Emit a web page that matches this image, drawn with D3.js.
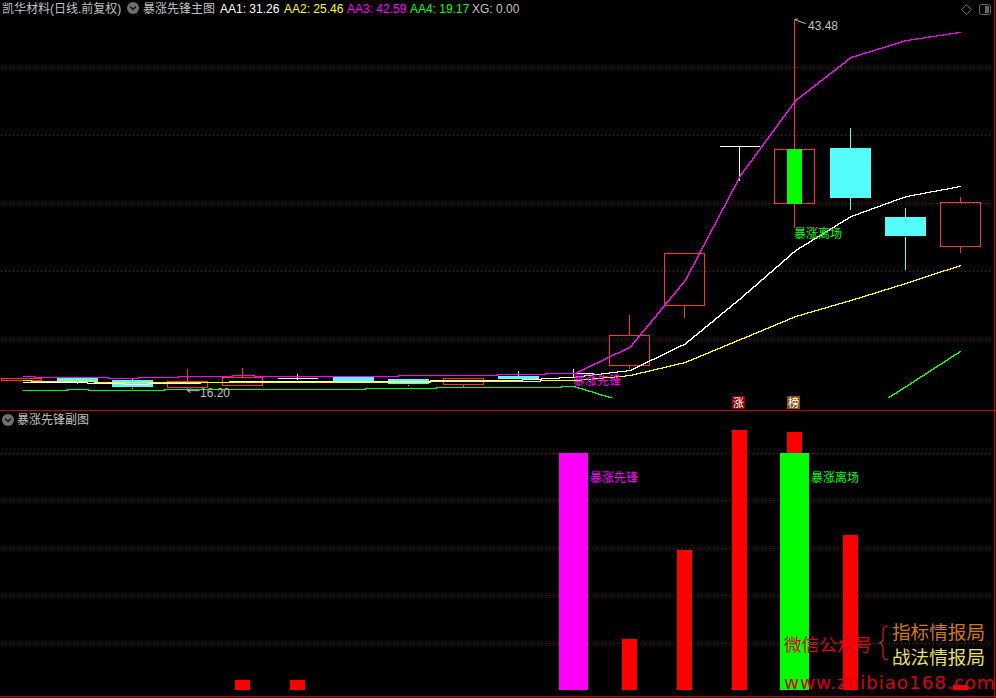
<!DOCTYPE html>
<html><head><meta charset="utf-8">
<script src="https://cdnjs.cloudflare.com/ajax/libs/d3/7.8.5/d3.min.js"></script>
<style>html,body{margin:0;background:#000;overflow:hidden}svg{display:block}text{font-family:"Liberation Sans","Noto Sans CJK SC",sans-serif}</style>
</head><body><svg id="c" width="996" height="698"></svg>
<script>
const tickPrices=[20,25,30,35,40];
const open_ =[16.93,17.15,16.98,16.40,16.57,17.11,17.20,17.06,16.64,17.28,17.48,18.07,22.48,34.19,29.96,34.04,28.97,26.80];
const close_=[17.13,16.84,16.47,16.89,17.18,17.11,16.89,16.69,17.11,17.06,17.48,20.27,26.30,34.19,33.97,30.37,27.57,30.04];
const high_ =[17.13,17.15,17.06,17.79,17.87,17.43,17.20,17.06,17.11,17.65,17.79,21.76,26.30,34.19,43.48,35.51,29.63,30.44];
const low_  =[16.93,16.71,16.33,16.20,16.57,16.98,16.89,16.54,16.47,17.06,17.13,17.79,21.54,31.62,28.16,29.49,25.07,26.32];
const aa1=[16.82,16.82,16.71,16.77,16.91,16.91,16.91,16.91,17.01,17.01,17.23,17.72,19.68,23.01,26.54,29.04,30.51,31.26];
const aa2=[16.96,16.89,16.84,16.82,16.84,16.84,16.84,16.84,16.93,16.93,16.98,17.35,18.31,20.00,21.69,22.87,24.12,25.46];
const aa3=[17.26,17.18,17.16,17.26,17.33,17.26,17.26,17.33,17.33,17.43,17.50,19.43,24.34,32.06,37.57,40.73,41.98,42.59];
const aa4=[16.23,16.30,16.23,16.33,16.35,16.30,16.35,16.40,16.47,16.47,16.52,15.29,14.60,14.10,13.80,13.97,16.54,19.17];
const subRed=[0,0,0,0,4.2,4.2,0,0,0,0,0,21.5,59,109.5,108.6,65.3,0,2];
const subMagenta=[0,0,0,0,0,0,0,0,0,0,100,0,0,0,0,0,0,0];
const subGreen=[0,0,0,0,0,0,0,0,0,0,0,0,0,0,100,0,0,0];
const subTicks=[20,40,60,80,100];
const headerNames=["AA1","AA2","AA3","AA4","XG"];
const headerValues=["31.26","25.46","42.59","19.17","0.00"];
const idx=d3.range(open_.length);

const svg=d3.select("#c");
const W=996,H=698;
svg.append("rect").attr("width",W).attr("height",H).attr("fill","#000");
const x=d3.scaleLinear().domain([0,17]).range([21.93,960.415]);
const y=d3.scaleLinear().domain([20,25]).range([339,271]);
const ys=d3.scaleLinear().domain([0,20]).range([690,642.5]);
const RED="#ff3232",CY="#54fcfc",MAG="#ff00ff",GRN="#00ff00",YEL="#ffff00",GREY="#c0c0c0";
const snap=v=>Math.round(v-.5)+.5;
const gline=svg.append("g");
function dotted(yy){gline.append("line").attr("x1",1).attr("x2",992).attr("y1",Math.round(yy)+.5).attr("y2",Math.round(yy)+.5)
  .attr("stroke","#8c1414").attr("stroke-width",1).attr("stroke-dasharray","1 3");}
tickPrices.forEach(v=>dotted(y(v)));
subTicks.forEach(v=>dotted(ys(v)));
// frame
const frame=svg.append("g").attr("stroke","#c80000").attr("stroke-width",1).attr("shape-rendering","crispEdges");
frame.append("line").attr("x1",0).attr("x2",W).attr("y1",410.5).attr("y2",410.5);
frame.append("line").attr("x1",0).attr("x2",W).attr("y1",696.5).attr("y2",696.5);
frame.append("line").attr("x1",994.5).attr("x2",994.5).attr("y1",0).attr("y2",698);
// candles
const cg=svg.append("g").attr("shape-rendering","crispEdges");
idx.forEach(i=>{
  const up=close_[i]>open_[i],doji=close_[i]===open_[i],cx=Math.floor(x(i))+.5;
  const col=doji?"#fff":up?RED:CY;
  const rawTop=y(Math.max(open_[i],close_[i])),rawBot=y(Math.min(open_[i],close_[i]));
  const top=snap(rawTop),bot=snap(rawBot);
  cg.append("line").attr("x1",cx).attr("x2",cx).attr("y1",y(high_[i])).attr("y2",top).attr("stroke",col);
  cg.append("line").attr("x1",cx).attr("x2",cx).attr("y1",bot).attr("y2",y(low_[i])).attr("stroke",col);
  if(doji) cg.append("line").attr("x1",cx-20).attr("x2",cx+20).attr("y1",top).attr("y2",top).attr("stroke",col);
  else if(up) cg.append("rect").attr("x",cx-20).attr("y",top).attr("width",40).attr("height",bot-top).attr("fill","none").attr("stroke",RED).attr("stroke-width",1);
  else cg.append("rect").attr("x",cx-20.5).attr("y",Math.round(rawTop)).attr("width",41).attr("height",Math.round(rawBot)-Math.round(rawTop)).attr("fill",CY);
});
// green signal body over candle 14
cg.append("rect").attr("x",Math.floor(x(14))-7).attr("width",15).attr("y",y(close_[14])).attr("height",y(open_[14])-y(close_[14])).attr("fill",GRN);
// lines: rasterised to whole pixels as a stair, like the aliased terminal lines
svg.append("clipPath").attr("id","clip").append("rect").attr("x",0).attr("y",0).attr("width",W).attr("height",398);
const stair=d3.line().curve(d3.curveStepAfter);
function pixelPoints(s){
  const pts=[];
  for(let px=Math.ceil(x(0));px<=Math.floor(x(s.length-1));px++){
    pts.push([px+.5,Math.round(y(d3.piecewise(d3.interpolateNumber,s)(x.invert(px)/(s.length-1))))+.5]);
  }
  return pts;
}
const lg=svg.append("g").attr("clip-path","url(#clip)").attr("fill","none").attr("stroke-width",1).attr("shape-rendering","crispEdges");
[[aa3,MAG],[aa1,"#fff"],[aa2,YEL],[aa4,GRN]].forEach(([s,c])=>lg.append("path").attr("d",stair(pixelPoints(s))).attr("stroke",c));
// labels
function t(xx,yy,s,fill,size,anchor){return svg.append("text").attr("x",xx).attr("y",yy).attr("fill",fill).attr("font-size",size||12).attr("text-anchor",anchor||"start").text(s);}
t(573,385,"暴涨先锋",MAG,12);
t(794,238,"暴涨离场",GRN,12);
t(200,397,"16.20",GREY,12);
t(808,30,"43.48",GREY,12);
const ag=svg.append("g").attr("stroke",GREY).attr("fill","none");
ag.append("path").attr("d",`M${x(3)} ${y(16.2)}h12M${x(3)} ${y(16.2)}l3 -2M${x(3)} ${y(16.2)}l3 2`);
ag.append("path").attr("d",`M${x(14)} ${y(43.48)}l11 4M${x(14)} ${y(43.48)}l3 -1`);
// badges
[[13,"涨","#8c0000"],[14,"榜","#8a5010"]].forEach(([i,s,c])=>{
  svg.append("rect").attr("x",Math.floor(x(i))-7).attr("y",396).attr("width",13).attr("height",13).attr("fill",c);
  t(Math.floor(x(i))-.5,407,s,"#fff",11,"middle");
});
// header
function icon(cx,cy){svg.append("circle").attr("cx",cx).attr("cy",cy).attr("r",6).attr("fill","#707070");
  svg.append("path").attr("d",`M${cx-3} ${cy-1.5}L${cx} ${cy+1.5}L${cx+3} ${cy-1.5}`).attr("stroke","#111").attr("stroke-width",1.4).attr("fill","none");}
t(2,13,"凯华材料(日线.前复权)",GREY,12);
icon(133,8);
t(143,13,"暴涨先锋主图",GREY,12);
const hx=[220,284,347,410,472],hc=["#fff",YEL,MAG,GRN,GREY];
headerNames.forEach((n,i)=>t(hx[i],13,n+": "+headerValues[i],hc[i],12));
svg.append("path").attr("d","M966.5 4.5l5 5l-5 5l-5 -5z").attr("fill","none").attr("stroke","#666");
svg.append("rect").attr("x",979.5).attr("y",4.5).attr("width",11).attr("height",10).attr("rx",2).attr("fill","none").attr("stroke","#666");
svg.append("rect").attr("x",985).attr("y",6).attr("width",4).attr("height",7).attr("fill","#666");
icon(8,420);
t(17,424,"暴涨先锋副图",GREY,12);
// sub bars
const bars=svg.append("g").attr("shape-rendering","crispEdges");
function barSet(data,col,w){bars.selectAll(null).data(idx.filter(i=>data[i]>0)).enter().append("rect")
  .attr("x",i=>Math.floor(x(i))-Math.floor(w/2)).attr("width",w).attr("y",i=>ys(data[i])).attr("height",i=>ys(0)-ys(data[i])).attr("fill",col);}
barSet(subRed,"#ff0000",15);
barSet(subMagenta,MAG,29);
barSet(subGreen,GRN,29);
t(590,482,"暴涨先锋",MAG,12);
t(811,482,"暴涨离场",GRN,12);
// watermark
t(784,651,"微信公众号","#d80014",17.6);
t(892,639,"指标情报局","#d07a10",18.6);
t(892,664,"战法情报局","#e8e060",18.6);
t(784,689,"www.zhibiao168.com","#d80014",18.5).attr("letter-spacing",.85).style("font-family","'DejaVu Sans'");
svg.append("path").attr("d","M888 626q-5 0 -5 5v8q0 3 -4 4q4 1 4 4v8q0 5 5 5").attr("fill","none").attr("stroke","#d02020").attr("stroke-width",1.2);
</script></body></html>
